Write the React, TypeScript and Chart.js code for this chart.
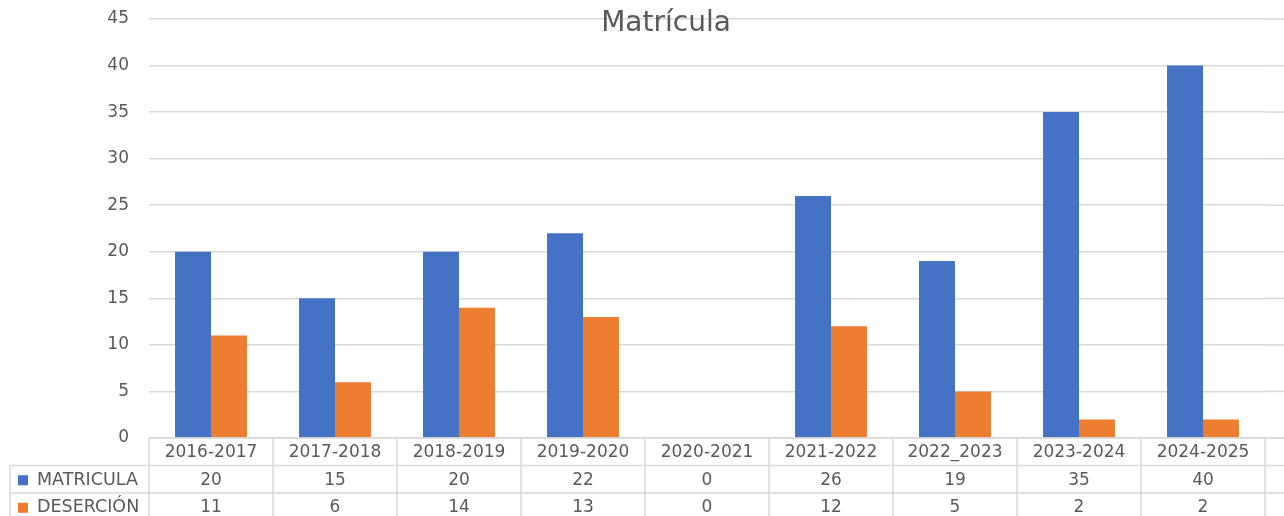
import React, { useEffect, useRef } from "react";
import { Chart, registerables } from "chart.js";

Chart.register(...registerables);

const categories = [
  "2016-2017",
  "2017-2018",
  "2018-2019",
  "2019-2020",
  "2020-2021",
  "2021-2022",
  "2022_2023",
  "2023-2024",
  "2024-2025",
];
const matricula = [20, 15, 20, 22, 0, 26, 19, 35, 40];
const desercion = [11, 6, 14, 13, 0, 12, 5, 2, 2];
const seriesNames = ["MATRICULA", "DESERCIÓN"];
const seriesColors = ["#4472C4", "#ED7D31"];
const titleText = "Matrícula";

const FONT = '"DejaVu Sans", sans-serif';
const TEXT_COLOR = "#595959";
const LINE_COLOR = "#D9D9D9";

const extrasPlugin = {
  id: "extras",
  beforeDatasetsDraw(chart: any) {
    const ctx = chart.ctx;
    const area = chart.chartArea;
    const y = chart.scales.y;
    ctx.save();
    ctx.strokeStyle = LINE_COLOR;
    ctx.lineWidth = 1.5;
    y.ticks.forEach((t: any) => {
      const py = y.getPixelForValue(t.value);
      ctx.beginPath();
      ctx.moveTo(area.right, py);
      ctx.lineTo(chart.width, py);
      ctx.stroke();
    });
    ctx.restore();
  },
  afterDraw(chart: any) {
    const ctx = chart.ctx;
    const area = chart.chartArea;
    const xs = chart.scales.x;
    const W = chart.width;
    const H = chart.height;
    const labels: string[] = chart.data.labels;
    const n = labels.length;
    const colW = xs.getPixelForValue(1) - xs.getPixelForValue(0);
    const left = xs.getPixelForValue(0) - colW / 2;
    const top = area.bottom;
    const rowH = 27.5;
    const legendLeft = 10;

    ctx.save();
    // title
    ctx.fillStyle = TEXT_COLOR;
    ctx.font = `28px ${FONT}`;
    ctx.textAlign = "center";
    ctx.textBaseline = "middle";
    ctx.fillText(titleText, 666, 24);

    // table lines
    ctx.strokeStyle = LINE_COLOR;
    ctx.lineWidth = 1.5;
    for (let k = 0; k <= n; k++) {
      const px = left + k * colW;
      ctx.beginPath();
      ctx.moveTo(px, top);
      ctx.lineTo(px, H);
      ctx.stroke();
    }
    ctx.beginPath();
    ctx.moveTo(legendLeft, top + rowH);
    ctx.lineTo(legendLeft, H);
    ctx.stroke();
    for (let r = 1; r <= 2; r++) {
      const py = top + r * rowH;
      ctx.beginPath();
      ctx.moveTo(legendLeft, py);
      ctx.lineTo(W, py);
      ctx.stroke();
    }
    ctx.beginPath();
    ctx.moveTo(left, top);
    ctx.lineTo(W, top);
    ctx.stroke();

    // header labels
    ctx.fillStyle = TEXT_COLOR;
    ctx.font = `17px ${FONT}`;
    ctx.textAlign = "center";
    ctx.textBaseline = "middle";
    labels.forEach((lab, i) => {
      ctx.fillText(lab, xs.getPixelForValue(i), top + rowH / 2 + 1);
    });

    // rows
    chart.data.datasets.forEach((ds: any, r: number) => {
      const cy = top + rowH * (r + 1) + rowH / 2 + 1;
      ctx.fillStyle = ds.backgroundColor;
      ctx.fillRect(legendLeft + 8, cy - 5, 10, 10);
      ctx.fillStyle = TEXT_COLOR;
      ctx.textAlign = "left";
      ctx.font = `17.5px ${FONT}`;
      ctx.fillText(ds.label, legendLeft + 27, cy);
      ctx.font = `17px ${FONT}`;
      ctx.textAlign = "center";
      ds.data.forEach((v: number, i: number) => {
        ctx.fillText(String(v), xs.getPixelForValue(i), cy);
      });
    });
    ctx.restore();
  },
};

export default function App() {
  const ref = useRef<HTMLCanvasElement | null>(null);

  useEffect(() => {
    if (!ref.current) return;
    Chart.defaults.font.family = FONT;
    const chart = new Chart(ref.current, {
      type: "bar",
      data: {
        labels: categories,
        datasets: [
          {
            label: seriesNames[0],
            data: matricula,
            backgroundColor: seriesColors[0],
            categoryPercentage: 0.58,
            barPercentage: 1,
          },
          {
            label: seriesNames[1],
            data: desercion,
            backgroundColor: seriesColors[1],
            categoryPercentage: 0.58,
            barPercentage: 1,
          },
        ],
      },
      options: {
        responsive: false,
        animation: false,
        devicePixelRatio: 1,
        layout: { padding: { top: 19, bottom: 78, right: 19, left: 0 } },
        plugins: {
          legend: { display: false },
          title: { display: false },
          tooltip: { enabled: false },
        },
        scales: {
          x: { display: false },
          y: {
            min: 0,
            max: 45,
            ticks: {
              stepSize: 5,
              color: TEXT_COLOR,
              font: { size: 17, family: FONT },
              padding: 0,
            },
            grid: {
              color: LINE_COLOR,
              lineWidth: 1.5,
              drawTicks: true,
              tickLength: 20,
              tickColor: "rgba(0,0,0,0)",
            },
            border: { display: false },
            afterFit: (scale: any) => {
              scale.width = 149;
            },
          },
        },
      },
      plugins: [extrasPlugin],
    });
    return () => chart.destroy();
  }, []);

  return (
    <canvas
      ref={ref}
      width={1284}
      height={516}
      style={{ position: "fixed", left: 0, top: 0, display: "block", background: "#fff" }}
    />
  );
}
